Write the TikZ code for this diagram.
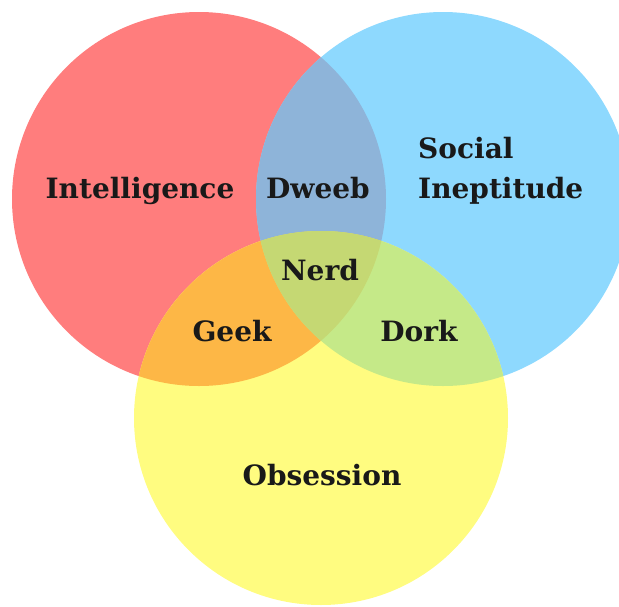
\documentclass[tikz,border=0pt]{standalone}
\usepackage{fontspec}
\setmainfont{DejaVu Serif}

\definecolor{intelred}{HTML}{FF7D7D}
\definecolor{socialblue}{HTML}{8ED9FE}
\definecolor{obsyellow}{HTML}{FFFC80}
\definecolor{dweebblue}{HTML}{8EB4D9}
\definecolor{geekorange}{HTML}{FDB746}
\definecolor{dorkgreen}{HTML}{C5E988}
\definecolor{nerdgreen}{HTML}{C5D873}

\tikzset{
  venntext/.style={anchor=base, inner sep=0pt, text=black!90,
    font=\fontsize{28}{34}\selectfont\bfseries}
}

\begin{document}
\begin{tikzpicture}[x=1pt,y=-1pt]

    \useasboundingbox (0,0) rectangle (619,606);
    \clip (0,0) rectangle (619,606);

    \fill[intelred] (199,199) circle [radius=187pt];

    \fill[socialblue] (443,199) circle [radius=187pt];

    \fill[obsyellow] (321,418) circle [radius=187pt];



    \begin{scope}

      \clip (199,199) circle [radius=187pt];
      \fill[dweebblue] (443,199) circle [radius=187pt];
      \fill[geekorange] (321,418) circle [radius=187pt];

    \end{scope}



    \begin{scope}

      \clip (443,199) circle [radius=187pt];
      \fill[dorkgreen] (321,418) circle [radius=187pt];
      \clip (199,199) circle [radius=187pt];
      \fill[nerdgreen] (321,418) circle [radius=187pt];

    \end{scope}



    \node[venntext] (intel) at (140,198) {Intelligence};
    \node[venntext] (dweeb) at (318,198) {Dweeb};
    \node[venntext, anchor=base west] (social) at (418,158) {Social};
    \node[venntext, anchor=base west] (inept) at (418,198) {Ineptitude};
    \node[venntext] (nerd) at (320,280) {Nerd};
    \node[venntext] (geek) at (232,341) {Geek};
    \node[venntext] (dork) at (419,341) {Dork};
    \node[venntext] (obsess) at (322,485) {Obsession};

  \end{tikzpicture}
\end{document}
